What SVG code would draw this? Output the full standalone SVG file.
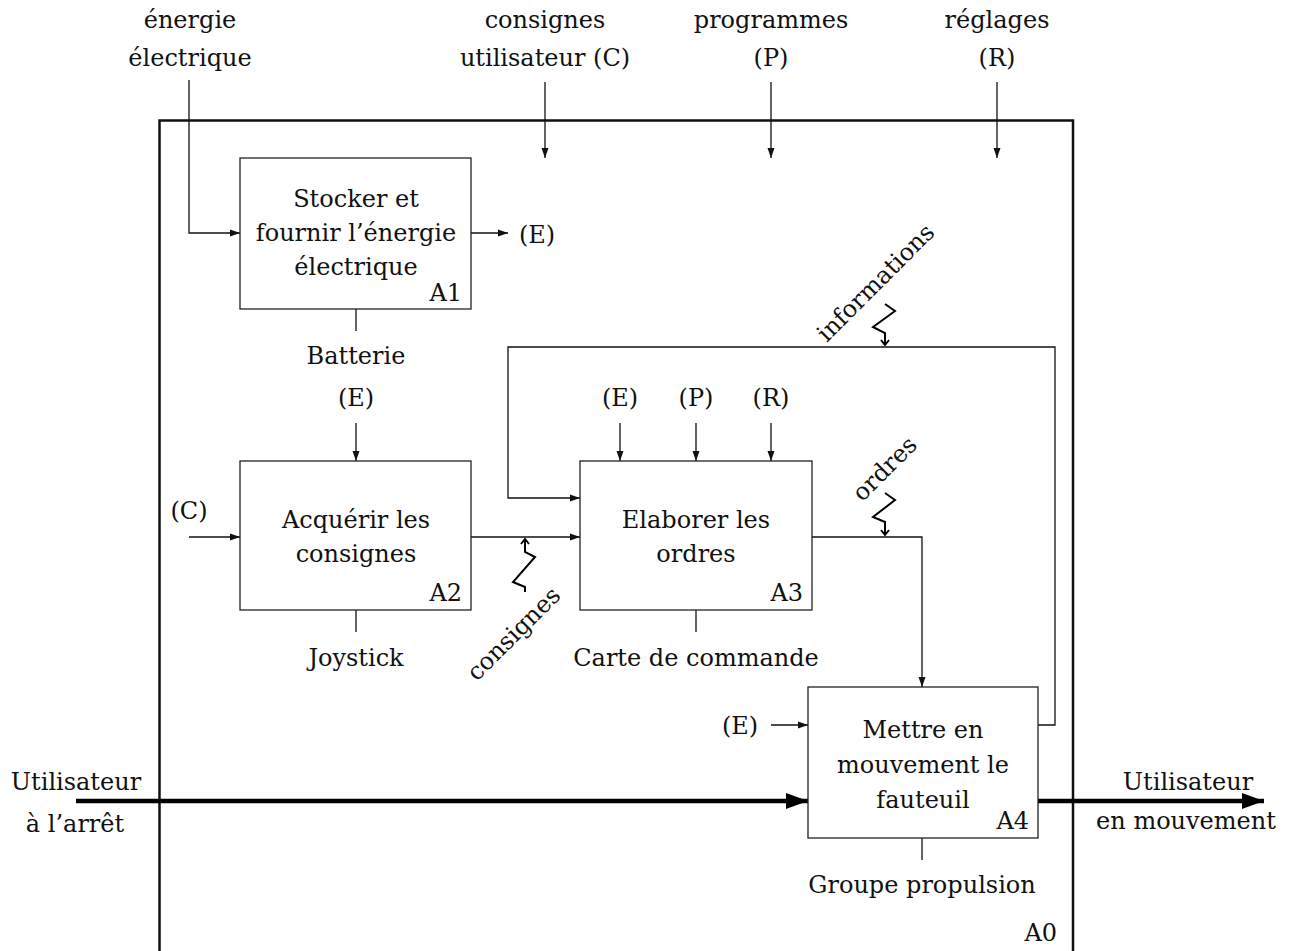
<svg xmlns="http://www.w3.org/2000/svg" width="1290" height="951" viewBox="0 0 1290 951">
<style>
text{font-family:"DejaVu Serif",serif;font-size:24px;fill:#111;text-anchor:middle}
.r{text-anchor:end}
.box{fill:#fff;stroke:#222;stroke-width:1.3}
.ln{fill:none;stroke:#111;stroke-width:1.3}
.thick{fill:none;stroke:#000;stroke-width:4.5}
.zz{fill:none;stroke:#000;stroke-width:2}
</style>
<defs>
<marker id="a" markerUnits="userSpaceOnUse" markerWidth="11" markerHeight="8" refX="10" refY="4" orient="auto"><path d="M0,0.5 L10,4 L0,7.5 z" fill="#111"/></marker>
<marker id="b" markerUnits="userSpaceOnUse" markerWidth="24" markerHeight="18" refX="22" refY="9" orient="auto"><path d="M0,1 L22,9 L0,17 z" fill="#000"/></marker>
</defs>
<g id="A0"><rect x="159.5" y="120.5" width="913.5" height="850" fill="none" stroke="#111" stroke-width="2.5"/><text class="r" x="1057" y="941">A0</text></g>
<g id="connectors">
<path class="ln" d="M189,80 V233 H240" marker-end="url(#a)"/>
<path class="ln" d="M545,82 V158" marker-end="url(#a)"/>
<path class="ln" d="M771,82 V158" marker-end="url(#a)"/>
<path class="ln" d="M997,82 V158" marker-end="url(#a)"/>
<path class="ln" d="M471,233 H508" marker-end="url(#a)"/>
<path class="ln" d="M356,309 V331"/>
<path class="ln" d="M356,423 V461" marker-end="url(#a)"/>
<path class="ln" d="M189,537 H240" marker-end="url(#a)"/>
<path class="ln" d="M356,610 V632"/>
<path class="ln" d="M471,537 H580" marker-end="url(#a)"/>
<path class="ln" d="M620,423 V461" marker-end="url(#a)"/>
<path class="ln" d="M696,423 V461" marker-end="url(#a)"/>
<path class="ln" d="M771,423 V461" marker-end="url(#a)"/>
<path class="ln" d="M696,610 V632"/>
<path class="ln" d="M812,537 H922 V687" marker-end="url(#a)"/>
<path class="ln" d="M1038,725 H1055 V347 H508 V498 H580" marker-end="url(#a)"/>
<path class="ln" d="M771,725 H808" marker-end="url(#a)"/>
<path class="ln" d="M922,838 V860"/>
<path class="thick" d="M76,801 H808" marker-end="url(#b)"/>
<path class="thick" d="M1038,801 H1264" marker-end="url(#b)"/>
<path class="zz" d="M885,304 L895,311 L873,327 L885,333 L885,345 M881,340 L885,345 L889,340"/>
<path class="zz" d="M885,493 L895,500 L873,517 L885,522 L885,535 M881,530 L885,535 L889,530"/>
<path class="zz" d="M525,592 L525,587 L513,582 L535,557 L525,552 L525,539 M521,544 L525,539 L529,544"/>
</g>
<g id="labels">
<text x="190" y="28">énergie</text><text x="190" y="66">électrique</text>
<text x="545" y="28">consignes</text><text x="545" y="66">utilisateur (C)</text>
<text x="771" y="28">programmes</text><text x="771" y="66">(P)</text>
<text x="997" y="28">réglages</text><text x="997" y="66">(R)</text>
<text x="537" y="243">(E)</text>
<text x="356" y="364">Batterie</text>
<text x="356" y="406">(E)</text>
<text x="189" y="519">(C)</text>
<text x="356" y="666">Joystick</text>
<text x="620" y="406">(E)</text><text x="696" y="406">(P)</text><text x="771" y="406">(R)</text>
<text x="696" y="666">Carte de commande</text>
<text x="740" y="734">(E)</text>
<text x="922" y="893">Groupe propulsion</text>
<text x="76" y="790">Utilisateur</text><text x="75" y="832">à l’arrêt</text>
<text x="1188" y="790">Utilisateur</text><text x="1186" y="829">en mouvement</text>
<text transform="translate(875,282) rotate(-45)" y="9">informations</text>
<text transform="translate(884,468) rotate(-45)" y="9">ordres</text>
<text transform="translate(513,633) rotate(-45)" y="9">consignes</text>
</g>
<g id="A1"><rect class="box" x="240" y="158" width="231" height="151"/><text x="356" y="207">Stocker et</text><text x="356" y="241">fournir l’énergie</text><text x="356" y="275">électrique</text><text class="r" x="462" y="301">A1</text></g>
<g id="A2"><rect class="box" x="240" y="461" width="231" height="149"/><text x="356" y="528">Acquérir les</text><text x="356" y="562">consignes</text><text class="r" x="462" y="601">A2</text></g>
<g id="A3"><rect class="box" x="580" y="461" width="232" height="149"/><text x="696" y="528">Elaborer les</text><text x="696" y="562">ordres</text><text class="r" x="803" y="601">A3</text></g>
<g id="A4"><rect class="box" x="808" y="687" width="230" height="151"/><text x="923" y="738">Mettre en</text><text x="923" y="773">mouvement le</text><text x="923" y="808">fauteuil</text><text class="r" x="1029" y="829">A4</text></g>
</svg>
